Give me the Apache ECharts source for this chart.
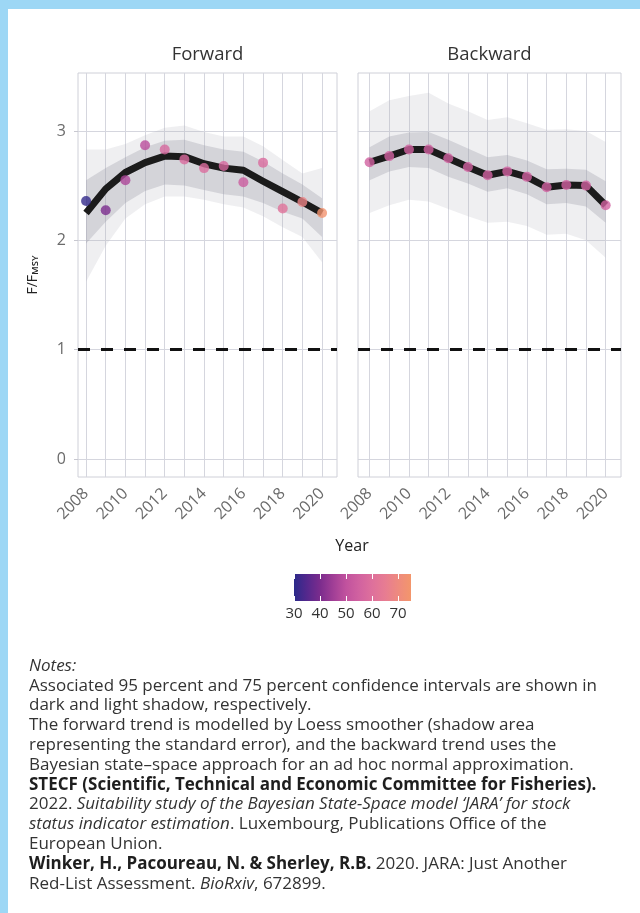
<!DOCTYPE html>
<html>
<head>
<meta charset="utf-8">
<script src="https://cdn.jsdelivr.net/npm/echarts@6/dist/echarts.min.js"></script>
<style>
  html, body { margin: 0; padding: 0; background: #ffffff; }
  #chart { width: 640px; height: 913px; }
</style>
</head>
<body>
<div id="chart"></div>
<script>
// ---- data ----------------------------------------------------------------
const years = [2008, 2009, 2010, 2011, 2012, 2013, 2014, 2015, 2016, 2017, 2018, 2019, 2020];
const yearLabels = [2008, 2010, 2012, 2014, 2016, 2018, 2020];
const yTicks = [0, 1, 2, 3];
const refLevel = 1;

// Forward: observed F/Fmsy, colour covariate, Loess fit and its bands
const fwdObs      = [2.36, 2.275, 2.55, 2.87, 2.83, 2.74, 2.66, 2.68, 2.53, 2.71, 2.29, 2.35, 2.25];
const fwdColorVal = [31, 40, 47, 49, 57, 58, 59, 57, 53, 58, 61, 68, 74];
const fwdFit      = [2.25, 2.47, 2.62, 2.71, 2.77, 2.765, 2.70, 2.66, 2.64, 2.54, 2.445, 2.35, 2.25];
const fwdInnerLo  = [1.97, 2.17, 2.34, 2.45, 2.51, 2.50, 2.46, 2.42, 2.40, 2.34, 2.26, 2.20, 2.03];
const fwdInnerHi  = [2.55, 2.66, 2.76, 2.85, 2.91, 2.92, 2.87, 2.83, 2.81, 2.72, 2.61, 2.51, 2.385];
const fwdOuterLo  = [1.62, 1.95, 2.20, 2.33, 2.40, 2.40, 2.37, 2.33, 2.30, 2.22, 2.12, 2.03, 1.80];
const fwdOuterHi  = [2.83, 2.83, 2.88, 2.96, 3.03, 3.05, 2.99, 2.95, 2.95, 2.86, 2.735, 2.61, 2.66];

// Backward: JARA state-space estimates and credible bands
const bwdObs      = [2.714, 2.77, 2.83, 2.83, 2.75, 2.67, 2.595, 2.63, 2.58, 2.485, 2.505, 2.50, 2.32];
const bwdColorVal = [55, 55, 55, 55, 55, 55, 55, 55, 55, 55, 55, 55, 55];
const bwdInnerLo  = [2.55, 2.63, 2.67, 2.66, 2.58, 2.52, 2.445, 2.475, 2.42, 2.33, 2.34, 2.31, 2.16];
const bwdInnerHi  = [2.85, 2.95, 2.985, 2.99, 2.92, 2.84, 2.76, 2.78, 2.73, 2.65, 2.655, 2.645, 2.54];
const bwdOuterLo  = [2.25, 2.32, 2.37, 2.355, 2.285, 2.22, 2.16, 2.17, 2.13, 2.05, 2.06, 2.00, 1.84];
const bwdOuterHi  = [3.18, 3.28, 3.32, 3.35, 3.25, 3.18, 3.10, 3.125, 3.07, 3.01, 3.015, 3.00, 2.90];

// colour scale
const colorTicks = [30, 40, 50, 60, 70];
const colorRange = [30, 75];
const palette = ['#2b2a8a', '#55288d', '#7b2c8d', '#a03e96', '#c1529e',
                 '#d162a0', '#de709c', '#e77c92', '#ee8a7f', '#f3966b'];

// panel extents
const fwdXRange = [2007.59, 2020.76];
const bwdXRange = [2007.41, 2020.78];
const yRange = [-0.165, 3.53];

// ---- styling helpers -------------------------------------------------------
const gridColor = '#d5d6de';
const labelColor = '#6b6b6b';
const fontFamily = '"Open Sans", "Noto Sans", sans-serif';

function xAxisFor(gridIndex, range, showLabels) {
  return {
    type: 'value', gridIndex, min: range[0], max: range[1],
    axisLine: { show: false },
    axisTick: { show: false, customValues: years },
    axisLabel: {
      show: showLabels, customValues: yearLabels, rotate: 45, margin: 14,
      padding: [12, 0, 0, 0],
      color: labelColor, fontSize: 16, fontFamily,
      formatter: v => String(v)
    },
    splitLine: { show: true, lineStyle: { color: gridColor, width: 1 } }
  };
}

function yAxisFor(gridIndex, showLabels) {
  const ax = {
    type: 'value', gridIndex, min: yRange[0], max: yRange[1],
    axisLine: { show: false },
    axisTick: { show: showLabels, customValues: yTicks, length: 4, lineStyle: { color: '#c8c8d0' } },
    axisLabel: { show: showLabels, customValues: yTicks, color: labelColor, fontSize: 16, margin: 12, fontFamily },
    splitLine: { show: true, lineStyle: { color: gridColor, width: 1 } }
  };
  if (showLabels) {
    ax.name = '{a|F/F}{b|MSY}';
    ax.nameLocation = 'middle';
    ax.nameRotate = 90;
    ax.nameGap = 38;
    ax.nameTextStyle = {
      rich: {
        a: { fontSize: 14, color: '#222', fontFamily, fontWeight: 500, verticalAlign: 'bottom', lineHeight: 17 },
        b: { fontSize: 9.5, color: '#222', fontFamily, fontWeight: 600, verticalAlign: 'bottom', lineHeight: 13 }
      }
    };
  }
  return ax;
}

function bandSeries(idx, lo, hi, fill) {
  return {
    type: 'custom', xAxisIndex: idx, yAxisIndex: idx, silent: true, z: 1,
    data: years.map((y, i) => [y, lo[i], hi[i]]),
    encode: { x: 0, y: [1, 2] },
    renderItem: (params, api) => {
      if (params.dataIndex !== 0) return null;
      const pts = [];
      for (let i = 0; i < years.length; i++) pts.push(api.coord([years[i], hi[i]]));
      for (let i = years.length - 1; i >= 0; i--) pts.push(api.coord([years[i], lo[i]]));
      return { type: 'polygon', shape: { points: pts }, style: { fill: fill, stroke: null } };
    }
  };
}

function trendSeries(idx, values) {
  return {
    type: 'line', xAxisIndex: idx, yAxisIndex: idx, z: 3, silent: true,
    data: years.map((y, i) => [y, values[i]]),
    symbol: 'none', lineStyle: { color: '#1b1b1b', width: 7, cap: 'butt', join: 'round' }
  };
}

function pointSeries(idx, values, colorVals) {
  return {
    type: 'scatter', xAxisIndex: idx, yAxisIndex: idx, z: 4, silent: true,
    symbolSize: 10,
    data: years.map((y, i) => [y, values[i], colorVals[i]])
  };
}

function refSeries(idx, range) {
  return {
    type: 'line', xAxisIndex: idx, yAxisIndex: idx, z: 2, silent: true,
    data: [[range[0], refLevel], [range[1], refLevel]],
    symbol: 'none', lineStyle: { color: '#111', width: 3, type: [12, 11] }
  };
}

const gradientStops = palette.map((c, i) => ({ offset: i / (palette.length - 1), color: c }));

// ---- notes text ------------------------------------------------------------
const notesText = [
  '{i|Notes:}',
  '{r|Associated 95 percent and 75 percent confidence intervals are shown in}',
  '{r|dark and light shadow, respectively.}',
  '{r|The forward trend is modelled by Loess smoother (shadow area}',
  '{r|representing the standard error), and the backward trend uses the}',
  '{r|Bayesian state\u2013space approach for an ad hoc normal approximation.}',
  '{b|STECF (Scientific, Technical and Economic Committee for Fisheries).}',
  '{r|2022. }{i|Suitability study of the Bayesian State-Space model \u2018JARA\u2019 for stock}',
  '{i|status indicator estimation}{r|. Luxembourg, Publications Office of the}',
  '{r|European Union.}',
  '{b|Winker, H., Pacoureau, N. & Sherley, R.B.}{r| 2020. JARA: Just Another}',
  '{r|Red-List Assessment. }{i|BioRxiv}{r|, 672899.}'
].join('\n');

const noteLH = 19.8;
const noteFS = 17;

const chart = echarts.init(document.getElementById('chart'), null, { renderer: 'canvas' });

chart.setOption({
  backgroundColor: '#ffffff',
  animation: false,
  textStyle: { fontFamily },
  grid: [
    { left: 78, top: 73, width: 259, height: 404, show: true, borderColor: '#cfd0d8', borderWidth: 1, backgroundColor: '#fff' },
    { left: 358, top: 73, width: 263, height: 404, show: true, borderColor: '#cfd0d8', borderWidth: 1, backgroundColor: '#fff' },
    { left: 294, top: 574, width: 117, height: 27, show: false }
  ],
  xAxis: [
    xAxisFor(0, fwdXRange, true),
    xAxisFor(1, bwdXRange, true),
    {
      type: 'value', gridIndex: 2, min: colorRange[0], max: colorRange[1], position: 'bottom', z: 5,
      axisLine: { show: false },
      axisTick: { show: true, inside: true, length: 5, customValues: colorTicks, lineStyle: { color: '#ffffff', width: 1 } },
      axisLabel: { show: true, customValues: colorTicks, color: '#333', fontSize: 15, margin: 5, fontFamily },
      splitLine: { show: false }
    },
    {
      type: 'value', gridIndex: 2, min: colorRange[0], max: colorRange[1], position: 'top', z: 5,
      axisLine: { show: false },
      axisTick: { show: true, inside: true, length: 5, customValues: colorTicks, lineStyle: { color: '#ffffff', width: 1 } },
      axisLabel: { show: false },
      splitLine: { show: false }
    }
  ],
  yAxis: [
    yAxisFor(0, true),
    yAxisFor(1, false),
    { type: 'value', gridIndex: 2, min: 0, max: 1, show: false }
  ],
  visualMap: {
    type: 'continuous', show: false, dimension: 2, min: colorRange[0], max: colorRange[1],
    seriesIndex: [4, 9], inRange: { color: palette }
  },
  series: [
    // Forward panel
    bandSeries(0, fwdOuterLo, fwdOuterHi, 'rgba(175,175,185,0.2)'),
    bandSeries(0, fwdInnerLo, fwdInnerHi, 'rgba(150,150,162,0.3)'),
    refSeries(0, fwdXRange),
    trendSeries(0, fwdFit),
    pointSeries(0, fwdObs, fwdColorVal),
    // Backward panel
    bandSeries(1, bwdOuterLo, bwdOuterHi, 'rgba(175,175,185,0.2)'),
    bandSeries(1, bwdInnerLo, bwdInnerHi, 'rgba(150,150,162,0.3)'),
    refSeries(1, bwdXRange),
    trendSeries(1, bwdObs),
    pointSeries(1, bwdObs, bwdColorVal),
    // colour bar
    {
      type: 'custom', xAxisIndex: 2, yAxisIndex: 2, silent: true, z: 1,
      data: [[colorRange[0], 0]],
      renderItem: (params, api) => {
        const cs = params.coordSys;
        return {
          type: 'rect', shape: { x: cs.x, y: cs.y, width: cs.width, height: cs.height },
          style: { fill: new echarts.graphic.LinearGradient(0, 0, 1, 0, gradientStops) }
        };
      }
    }
  ],
  graphic: [
    { type: 'rect', shape: { x: 0, y: 0, width: 640, height: 9 }, style: { fill: '#9dd7f5' }, z: 100 },
    { type: 'rect', shape: { x: 0, y: 0, width: 8, height: 913 }, style: { fill: '#9dd7f5' }, z: 100 },
    { type: 'text', x: 207.5, y: 55, style: { text: 'Forward', fontSize: 18.5, fill: '#333', align: 'center', verticalAlign: 'middle', fontFamily } },
    { type: 'text', x: 489.5, y: 55, style: { text: 'Backward', fontSize: 18.5, fill: '#333', align: 'center', verticalAlign: 'middle', fontFamily } },
    { type: 'text', x: 352, y: 546, style: { text: 'Year', fontSize: 16, fill: '#222', align: 'center', verticalAlign: 'middle', fontFamily } },
    {
      type: 'text', x: 29, y: 656,
      style: {
        text: notesText, fill: '#333', fontFamily, fontSize: noteFS, lineHeight: noteLH,
        rich: {
          r: { fontSize: noteFS, lineHeight: noteLH, fill: '#333', fontFamily },
          i: { fontSize: noteFS, lineHeight: noteLH, fill: '#333', fontFamily, fontStyle: 'italic' },
          b: { fontSize: noteFS, lineHeight: noteLH, fill: '#1e1e1e', fontFamily, fontWeight: 'bold' }
        }
      }
    }
  ]
});
</script>
</body>
</html>
